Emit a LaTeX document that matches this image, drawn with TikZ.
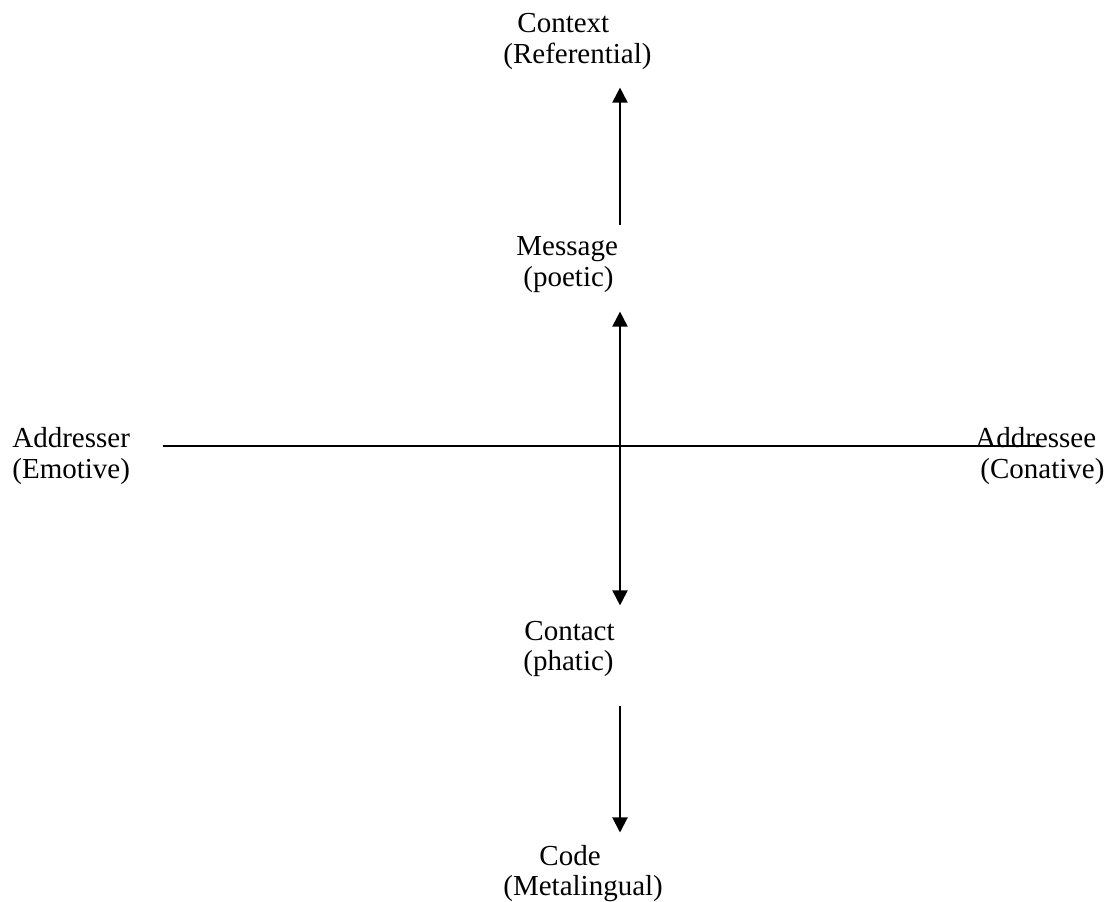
\documentclass[tikz,border=0pt]{standalone}
\usepackage{fontspec}
\setmainfont{Liberation Serif}
\usetikzlibrary{arrows.meta}

\begin{document}
\begin{tikzpicture}[x=0.5pt,y=-0.5pt,
	lbl/.style={inner sep=0pt,anchor=base west,font=\fontsize{14.5}{17}\selectfont},
	axisline/.style={line width=1pt},
	arr/.style={line width=1pt,-{Triangle[length=7.5pt,width=7.5pt]}},
	twoarr/.style={line width=1pt,{Triangle[length=7.5pt,width=7.5pt]}-{Triangle[length=7.5pt,width=7.5pt]}}]
	\useasboundingbox (0,0) rectangle (1107,901);
	
	% Crossing point of the two axes
	\coordinate (axis) at (620,446);
	
	% Factors and their functions
	\node[lbl] (context) at (517,32) {Context};
	\node[lbl] (contextfn) at (503,63) {(Referential)};
	\node[lbl] (message) at (516,255) {Message};
	\node[lbl] (messagefn) at (523,286) {(poetic)};
	\node[lbl] (addresser) at (12,447) {Addresser};
	\node[lbl] (addresserfn) at (12,478) {(Emotive)};
	\node[lbl] (addressee) at (975,447) {Addressee};
	\node[lbl] (addresseefn) at (980,478) {(Conative)};
	\node[lbl] (contact) at (524,640) {Contact};
	\node[lbl] (contactfn) at (523,670) {(phatic)};
	\node[lbl] (code) at (539,865) {Code};
	\node[lbl] (codefn) at (503,895) {(Metalingual)};
	
	% Horizontal axis, addresser to addressee
	\draw[axisline] ([xshift=16.5pt]addresser.east |- axis) -- ([xshift=32.5pt]addressee.west |- axis);
	
	% Vertical arrows
	\draw[arr] ([yshift=5.5pt]message.north -| axis) -- ([yshift=-9pt]contextfn.south -| axis); % Message to context
	\draw[twoarr] ([yshift=-9.5pt]messagefn.south -| axis) -- ([yshift=7.5pt]contact.north -| axis); % Message and contact
	\draw[arr] ([yshift=-14.5pt]contactfn.south -| axis) -- ([yshift=6pt]code.north -| axis); % Contact to code
\end{tikzpicture}
\end{document}
